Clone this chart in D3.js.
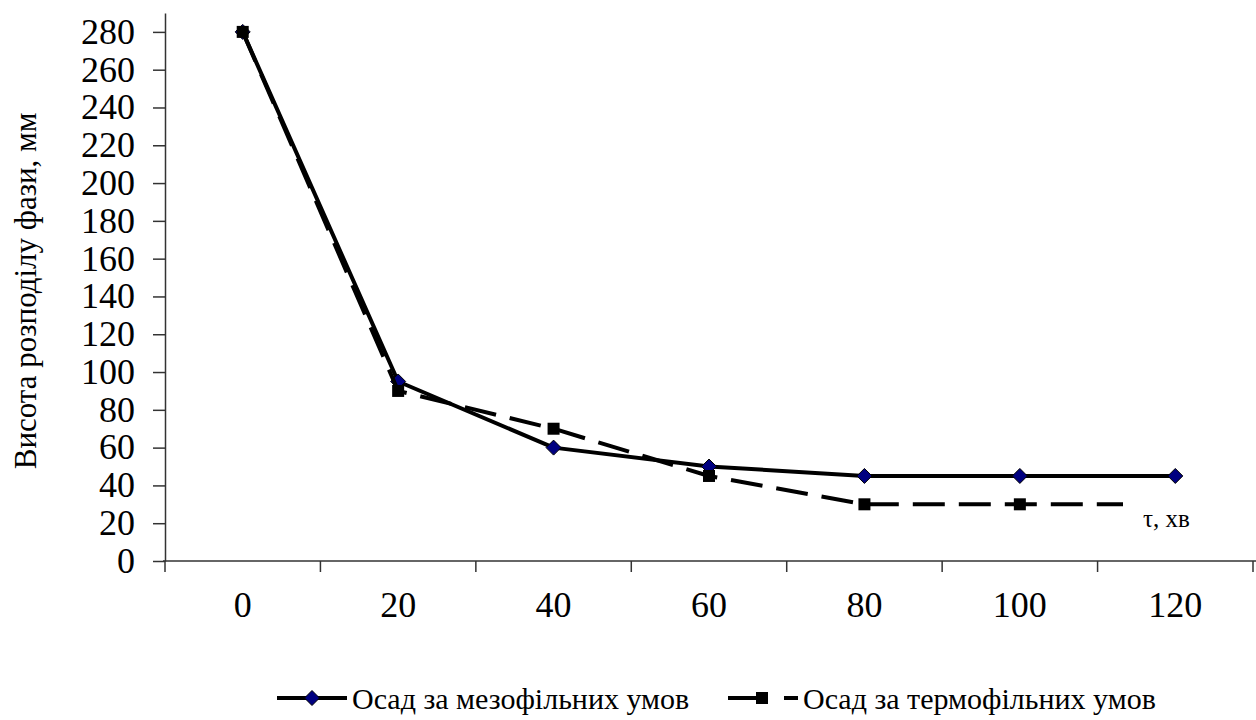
<!DOCTYPE html>
<html>
<head>
<meta charset="utf-8">
<script src="https://cdn.jsdelivr.net/npm/d3@7/dist/d3.min.js"></script>
<style>
  html, body { margin: 0; padding: 0; background: #fff; }
  #wrap { position: relative; width: 1256px; height: 720px; overflow: hidden; }
  #wrap svg { position: absolute; left: 0; top: 0; display: block; }
  .lbl { position: absolute; white-space: nowrap; line-height: 1; color: #000; }
</style>
</head>
<body>
<div id="wrap"><svg id="chart" width="1256" height="720"></svg></div>
<script>
// Settling time, min
const times = [0, 20, 40, 60, 80, 100, 120];
// Phase boundary height, mm
const mesophilic = [280, 95, 60, 50, 45, 45, 45];
const thermophilic = [280, 90, 70, 45, 30, 30, 30];
const yTicks = [0, 20, 40, 60, 80, 100, 120, 140, 160, 180, 200, 220, 240, 260, 280];
const seriesNames = ["Осад за мезофільних умов", "Осад за термофільних умов"];
const yTitle = "Висота розподілу фази, мм";
const xUnit = "τ, хв";

const wrap = d3.select("#wrap");
const svg = d3.select("#chart");
const plotLeft = 165, plotRight = 1253, plotTop = 13, plotBottom = 561;

// Text label placed by its baseline; anchor: "start" | "middle" | "end"
const ASC = 0.8375;
function label(text, x, baseline, size, anchor = "start", rotate = false) {
  const shift = anchor === "middle" ? "-50%" : anchor === "end" ? "-100%" : "0";
  const d = wrap.append("div").attr("class", "lbl").text(text);
  const el = d.node();
  el.style.fontFamily = '"Liberation Serif"';
  el.style.fontSize = size + "px";
  el.style.left = x + "px";
  if (rotate) {
    el.style.top = baseline + "px";
    el.style.transformOrigin = "0 0";
    el.style.transform = `rotate(-90deg) translate(${shift}, ${-ASC}em)`;
  } else {
    el.style.top = (baseline - ASC * size) + "px";
    el.style.transform = `translateX(${shift})`;
  }
  return d;
}

const x = d3.scaleBand().domain(times).range([plotLeft, plotRight]).padding(0);
const y = d3.scaleLinear().domain([0, 290]).range([plotBottom, plotTop]);
const cx = d => x(d) + x.bandwidth() / 2;

// Y axis
const yAxis = svg.append("g").attr("transform", `translate(${plotLeft},0)`)
  .call(d3.axisLeft(y).tickValues(yTicks).tickSize(12).tickSizeOuter(0));
yAxis.selectAll(".tick text").remove();
yAxis.select(".domain").attr("stroke", "#333").attr("stroke-width", 1.5);
yAxis.selectAll(".tick line").attr("stroke", "#333").attr("stroke-width", 1.5);
yTicks.forEach(v => label(String(v), 135, y(v) + 12, 36, "end"));

// X axis: ticks on category boundaries
const xg = svg.append("g");
xg.append("line").attr("x1", plotLeft - 2).attr("x2", 1256).attr("y1", plotBottom).attr("y2", plotBottom)
  .attr("stroke", "#333").attr("stroke-width", 1.5);
const bounds = times.map(t => x(t)).concat([plotRight]);
xg.selectAll("line.tk").data(bounds).join("line").attr("class", "tk")
  .attr("x1", d => d).attr("x2", d => d).attr("y1", plotBottom).attr("y2", plotBottom + 11)
  .attr("stroke", "#333").attr("stroke-width", 1.5);
times.forEach(t => label(String(t), cx(t), 617, 36, "middle"));

// Y title
label(yTitle, 36, 291, 31, "middle", true);

const line = d3.line().x((d, i) => cx(times[i])).y(d => y(d));

// Mesophilic series
svg.append("path").datum(mesophilic).attr("d", line)
  .attr("fill", "none").attr("stroke", "#000").attr("stroke-width", 4).attr("stroke-linejoin", "round");
const diamond = s => `M0,${-s}L${s},0L0,${s}L${-s},0Z`;
svg.selectAll("path.dm").data(mesophilic).join("path").attr("class", "dm")
  .attr("transform", (d, i) => `translate(${cx(times[i])},${y(d)})`)
  .attr("d", diamond(7.5)).attr("fill", "#000080").attr("stroke", "#000").attr("stroke-width", 1);

// Thermophilic series
svg.append("path").datum(thermophilic).attr("d", line)
  .attr("fill", "none").attr("stroke", "#000").attr("stroke-width", 4)
  .attr("stroke-dasharray", "32,14").attr("stroke-linejoin", "round");
svg.selectAll("rect.sq").data(thermophilic).join("rect").attr("class", "sq")
  .attr("x", (d, i) => cx(times[i]) - 6).attr("y", d => y(d) - 6)
  .attr("width", 12).attr("height", 12).attr("fill", "#000");

// Axis unit label on a white box
svg.append("rect").attr("x", 1123).attr("y", 493).attr("width", 99).attr("height", 66).attr("fill", "#fff");
label(xUnit, 1143, 527, 25, "start");

// Legend
const lg = svg.append("g");
lg.append("line").attr("x1", 277).attr("x2", 347).attr("y1", 698).attr("y2", 698)
  .attr("stroke", "#000").attr("stroke-width", 4);
lg.append("path").attr("transform", "translate(312,698)").attr("d", diamond(7.5))
  .attr("fill", "#000080").attr("stroke", "#000").attr("stroke-width", 1);
label(seriesNames[0], 352, 709, 30, "start");

lg.append("line").attr("x1", 728).attr("x2", 798).attr("y1", 698).attr("y2", 698)
  .attr("stroke", "#000").attr("stroke-width", 4).attr("stroke-dasharray", "40,16");
lg.append("rect").attr("x", 756).attr("y", 692).attr("width", 12).attr("height", 12).attr("fill", "#000");
label(seriesNames[1], 803, 709, 30, "start");
</script>
</body>
</html>
